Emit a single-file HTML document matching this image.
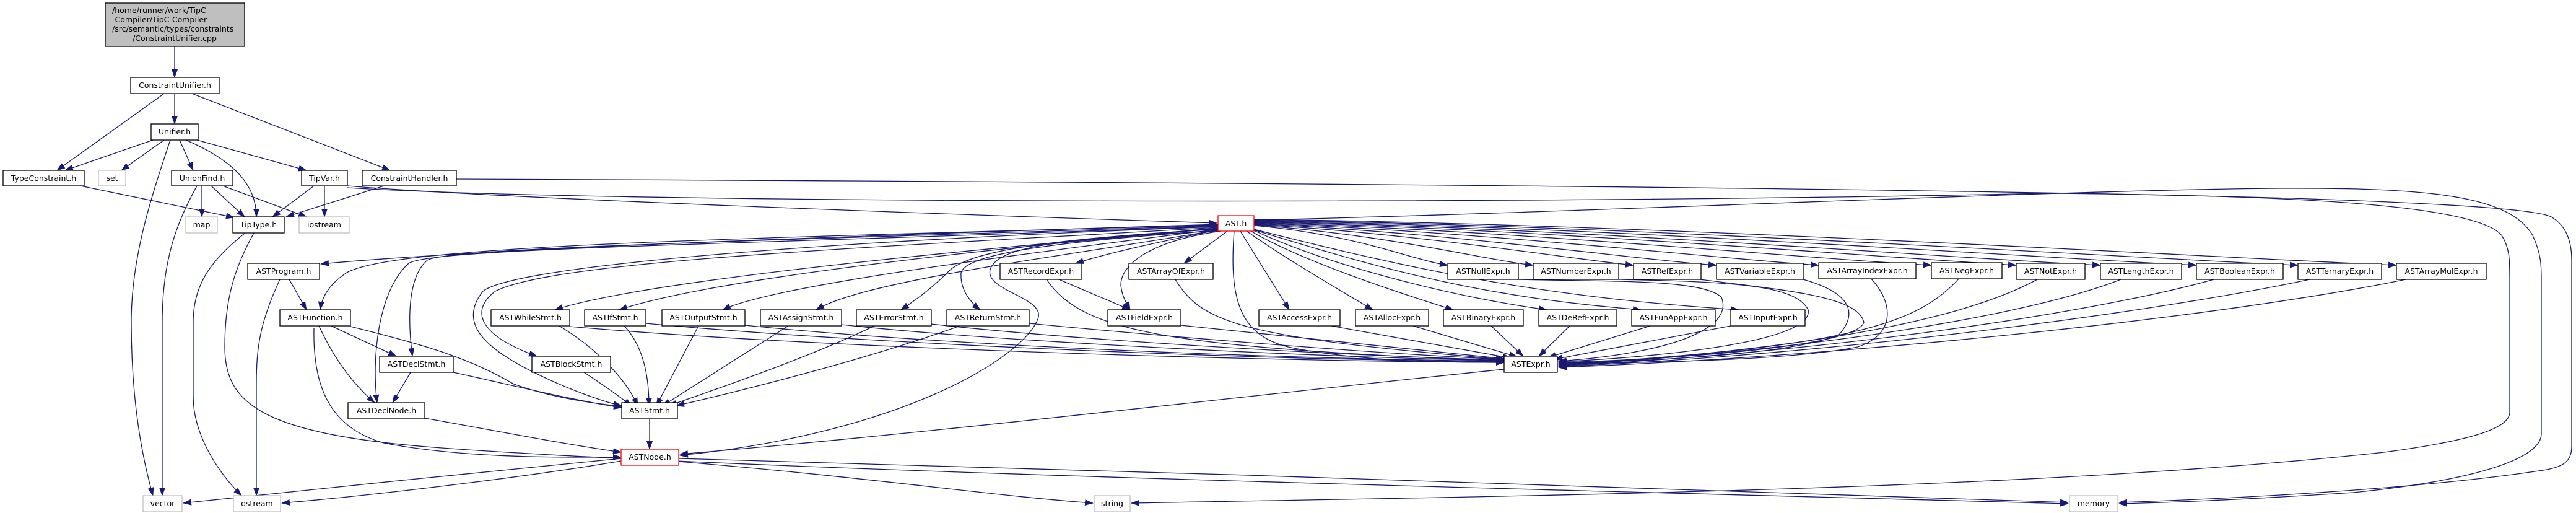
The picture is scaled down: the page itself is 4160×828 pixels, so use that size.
<!DOCTYPE html>
<html><head><meta charset="utf-8"><style>
html,body{margin:0;padding:0;background:#fff;}
svg{display:block;}
text{font-family:"DejaVu Sans","Liberation Sans",sans-serif;font-size:12.5px;fill:#000;}
.e{fill:none;stroke:#191970;stroke-width:1.3;marker-end:url(#a);}
.n{fill:#fff;stroke:#000;stroke-width:1.3;}
.g{fill:#fff;stroke:#bfbfbf;stroke-width:1.3;}
.r{fill:#fff;stroke:#ff0000;stroke-width:1.3;}
</style></head><body>
<svg width="4160" height="828" viewBox="0 0 4160 828" xmlns="http://www.w3.org/2000/svg">
<defs><marker id="a" markerWidth="14" markerHeight="10" refX="13" refY="5" orient="auto" markerUnits="userSpaceOnUse"><path d="M0,0 L14,5 L0,10z" fill="#191970"/></marker></defs>

<!-- edges -->
<path class="e" d="M282,75 L282,125"/>
<path class="e" d="M282,151 L282,200"/>
<path class="e" d="M265,151 L92,275"/>
<path class="e" d="M310,151 L630,275"/>
<path class="e" d="M247,226 L105,275"/>
<path class="e" d="M265,226 L196,275"/>
<path class="e" d="M275,226 C240,330 212,420 212,520 C212,650 230,740 247,800"/>
<path class="e" d="M290,226 L312,275"/>
<path class="e" d="M300,226 C380,260 414,300 414,350"/>
<path class="e" d="M318,226 L495,275"/>
<path class="e" d="M130,300 L378,351"/>
<path class="e" d="M326,300 L326,350"/>
<path class="e" d="M341,300 L395,350"/>
<path class="e" d="M360,300 L495,350"/>
<path class="e" d="M318,300 C285,360 262,420 262,520 L262,800"/>
<path class="e" d="M507,300 L440,350"/>
<path class="e" d="M524,300 L524,350"/>
<path class="e" d="M620,300 L462,350"/>
<path class="e" d="M561,300 C800,320 1500,345 1965,360"/>
<path class="e" d="M561,303 C1000,330 2500,330 3300,312 C3700,315 4000,330 4040,380 C4053,400 4053,420 4053,450 L4053,665 C4053,690 4000,710 3850,730 C3300,790 2500,800 1827,812"/>
<path class="e" d="M737,289 C1500,292 3000,300 3700,320 C4000,330 4100,340 4120,350 C4145,365 4153,390 4153,420 L4153,720 C4153,745 4140,755 4100,760 C3900,790 3600,805 3422,811"/>
<path class="e" d="M2025,355 C2500,345 3200,312 3600,305 C3900,300 4050,310 4090,380 C4104,410 4104,430 4104,450 L4104,700 C4104,740 4000,775 3800,795 C3600,808 3500,811 3422,813"/>
<path class="e" d="M396,376 C340,420 312,460 312,520 L312,640 C312,700 350,760 390,800"/>
<path class="e" d="M410,376 C380,430 363,480 363,560 C363,650 420,700 700,722 C1200,760 2500,790 3340,813"/>

<!-- AST.h left fan -->
<path class="e" d="M1967,362 C1400,380 800,400 518,426"/>
<path class="e" d="M1967,363 C1200,385 640,395 560,440 C530,460 520,480 517,500"/>
<path class="e" d="M1967,364 C1200,390 720,400 690,420 C655,450 660,530 666,575"/>
<path class="e" d="M1967,365 C1200,395 700,400 660,425 C610,470 600,580 609,650"/>
<path class="e" d="M1967,366 C1300,390 830,430 780,470 C740,520 780,560 860,600 C920,630 980,650 1004,655"/>
<path class="e" d="M1967,367 C1400,400 900,420 800,470 C760,500 770,540 867,575"/>
<path class="e" d="M1967,368 C1600,400 1050,450 896,500"/>
<path class="e" d="M1967,369 C1600,400 1150,450 1000,500"/>
<path class="e" d="M1967,370 C1650,410 1250,460 1167,500"/>
<path class="e" d="M1967,371 C1750,410 1400,450 1318,500"/>
<path class="e" d="M1967,370 C1700,385 1560,405 1530,440 C1500,470 1470,490 1455,500"/>
<path class="e" d="M1967,372 C1700,390 1560,410 1552,440 C1550,470 1570,490 1583,500"/>
<path class="e" d="M1967,373 C1700,385 1610,400 1599,435 C1590,470 1690,480 1676,515 C1650,580 1450,700 1098,735"/>
<path class="e" d="M1967,371 C1900,385 1800,405 1737,425"/>
<path class="e" d="M1972,373 C1850,390 1810,430 1810,460 C1812,480 1820,490 1825,500"/>
<path class="e" d="M1982,373 L1912,425"/>
<path class="e" d="M1993,373 C1985,480 2000,540 2080,560 C2200,585 2350,585 2429,585"/>
<!-- AST.h right fan G row -->
<path class="e" d="M2003,373 L2082,500"/>
<path class="e" d="M2013,373 C2080,420 2150,460 2217,500"/>
<path class="e" d="M2020,373 C2100,420 2250,470 2347,500"/>
<path class="e" d="M2025,372 C2150,430 2350,480 2498,500"/>
<path class="e" d="M2025,371 C2250,440 2400,480 2650,500"/>
<path class="e" d="M2025,370 C2300,440 2500,480 2808,500"/>
<!-- AST.h right fan F row -->
<path class="e" d="M2025,364 C2200,380 2280,420 2338,428"/>
<path class="e" d="M2025,363 C2250,380 2400,420 2476,428"/>
<path class="e" d="M2025,362 C2300,378 2550,420 2638,428"/>
<path class="e" d="M2025,361 C2350,376 2650,420 2772,428"/>
<path class="e" d="M2025,360 C2400,374 2800,420 2937,428"/>
<path class="e" d="M2025,359 C2450,372 2950,420 3119,428"/>
<path class="e" d="M2025,358 C2500,370 3100,420 3256,428"/>
<path class="e" d="M2025,357 C2550,368 3200,420 3392,428"/>
<path class="e" d="M2025,356 C2600,366 3350,420 3547,428"/>
<path class="e" d="M2025,355 C2650,364 3500,420 3711,428"/>
<path class="e" d="M2025,354 C2700,362 3650,420 3870,428"/>

<!-- program/function/decl -->
<path class="e" d="M467,451 L495,500"/>
<path class="e" d="M452,451 C420,520 414,560 414,620 L414,800"/>
<path class="e" d="M535,526 L640,575"/>
<path class="e" d="M515,526 C540,580 570,620 605,650"/>
<path class="e" d="M566,527 C700,560 760,580 830,620 C900,645 970,652 1004,656"/>
<path class="e" d="M507,530 C505,620 530,690 620,715 C750,740 900,738 1003,738"/>
<path class="e" d="M663,601 L634,650"/>
<path class="e" d="M732,601 C820,620 920,645 1004,658"/>
<path class="e" d="M686,675 C800,695 900,715 1003,730"/>
<path class="e" d="M1049,676 L1049,725"/>
<path class="e" d="M943,601 C980,625 1000,640 1020,655"/>
<!-- stmt -> ASTStmt -->
<path class="e" d="M903,526 C960,560 1010,610 1030,655"/>
<path class="e" d="M1008,526 C1040,560 1048,610 1048,655"/>
<path class="e" d="M1128,526 L1060,655"/>
<path class="e" d="M1273,526 L1070,655"/>
<path class="e" d="M1412,526 C1300,580 1150,630 1080,655"/>
<path class="e" d="M1550,526 C1400,580 1200,630 1092,655"/>
<!-- stmt -> ASTExpr -->
<path class="e" d="M920,527 C1300,560 2000,583 2429,585"/>
<path class="e" d="M1043,522 C1400,555 2000,580 2429,584"/>
<path class="e" d="M1203,525 C1500,555 2000,578 2429,583"/>
<path class="e" d="M1359,524 C1600,550 2100,576 2429,582"/>
<path class="e" d="M1504,523 C1700,545 2100,572 2429,581"/>
<path class="e" d="M1662,522 C1850,540 2200,570 2429,580"/>
<path class="e" d="M1907,525 C2100,545 2300,565 2429,579"/>
<path class="e" d="M1690,451 C1750,540 1900,560 2429,583"/>
<path class="e" d="M1710,451 L1825,500"/>
<path class="e" d="M1898,451 C1940,520 2000,545 2429,580"/>
<!-- G exprs -> ASTExpr -->
<path class="e" d="M2150,526 L2440,578"/>
<path class="e" d="M2282,526 L2450,576"/>
<path class="e" d="M2408,526 L2460,575"/>
<path class="e" d="M2535,526 L2485,575"/>
<path class="e" d="M2665,526 L2500,577"/>
<path class="e" d="M2795,526 L2510,580"/>
<!-- F exprs -> ASTExpr -->
<path class="e" d="M2450,451 C2600,455 2750,450 2780,480 C2800,530 2700,570 2517,583"/>
<path class="e" d="M2614,451 C2800,455 2900,460 2920,500 C2930,550 2700,575 2517,584"/>
<path class="e" d="M2745,451 C2900,470 3000,480 3010,520 C3000,560 2700,580 2517,585"/>
<path class="e" d="M2912,451 C2980,470 3005,500 2970,540 C2900,570 2700,582 2517,586"/>
<path class="e" d="M3020,448 C3060,490 3060,540 3000,560 C2900,580 2700,585 2517,587"/>
<path class="e" d="M3165,448 C3100,520 3000,560 2517,588"/>
<path class="e" d="M3290,451 C3200,500 3000,560 2517,589"/>
<path class="e" d="M3425,451 C3300,500 3000,560 2517,590"/>
<path class="e" d="M3575,451 C3400,500 3000,565 2517,591"/>
<path class="e" d="M3730,451 C3500,500 3000,570 2517,592"/>
<path class="e" d="M3885,451 C3600,510 3000,575 2517,593"/>
<!-- to ASTNode and bottom -->
<path class="e" d="M2429,596 C2000,640 1500,700 1098,733"/>
<path class="e" d="M1096,745 C1400,770 1600,800 1765,812"/>
<path class="e" d="M1096,740 C1800,760 2800,790 3340,811"/>
<path class="e" d="M1003,740 C800,760 500,790 296,812"/>
<path class="e" d="M1003,744 C850,770 600,800 455,812"/>

<!-- nodes -->
<rect x="170" y="5" width="225" height="70" fill="#bfbfbf" stroke="#000" stroke-width="1.3"/>
<text x="181" y="21">/home/runner/work/TipC</text>
<text x="181" y="36">-Compiler/TipC-Compiler</text>
<text x="181" y="51">/src/semantic/types/constraints</text>
<text x="282" y="66" text-anchor="middle">/ConstraintUnifier.cpp</text>

<g text-anchor="middle">
<rect class="n" x="211" y="125" width="143" height="26"/><text x="282.5" y="142">ConstraintUnifier.h</text>
<rect class="n" x="244" y="200" width="76" height="26"/><text x="282" y="217">Unifier.h</text>
<rect class="n" x="5" y="275" width="131" height="25"/><text x="70.5" y="292">TypeConstraint.h</text>
<rect class="g" x="159" y="275" width="44" height="25"/><text x="181" y="292">set</text>
<rect class="n" x="277" y="275" width="99" height="25"/><text x="326.5" y="292">UnionFind.h</text>
<rect class="n" x="487" y="275" width="74" height="25"/><text x="524" y="292">TipVar.h</text>
<rect class="n" x="585" y="275" width="152" height="25"/><text x="661" y="292">ConstraintHandler.h</text>
<rect class="g" x="300" y="350" width="51" height="26"/><text x="325.5" y="367">map</text>
<rect class="n" x="376" y="350" width="83" height="26"/><text x="417.5" y="367">TipType.h</text>
<rect class="g" x="483" y="350" width="81" height="26"/><text x="523.5" y="367">iostream</text>
<rect class="r" x="1967" y="348" width="58" height="25"/><text x="1996" y="365">AST.h</text>

<rect class="n" x="400" y="425" width="116" height="26"/><text x="458" y="442">ASTProgram.h</text>
<rect class="n" x="1615" y="425" width="132" height="26"/><text x="1681" y="442">ASTRecordExpr.h</text>
<rect class="n" x="1823" y="425" width="136" height="26"/><text x="1891" y="442">ASTArrayOfExpr.h</text>
<rect class="n" x="2338" y="425" width="114" height="26"/><text x="2395" y="442">ASTNullExpr.h</text>
<rect class="n" x="2476" y="425" width="138" height="26"/><text x="2545" y="442">ASTNumberExpr.h</text>
<rect class="n" x="2638" y="425" width="109" height="26"/><text x="2692.5" y="442">ASTRefExpr.h</text>
<rect class="n" x="2772" y="425" width="140" height="26"/><text x="2842" y="442">ASTVariableExpr.h</text>
<rect class="n" x="2937" y="424" width="157" height="26"/><text x="3015.5" y="441">ASTArrayIndexExpr.h</text>
<rect class="n" x="3119" y="424" width="114" height="26"/><text x="3176" y="441">ASTNegExpr.h</text>
<rect class="n" x="3256" y="425" width="111" height="26"/><text x="3311.5" y="442">ASTNotExpr.h</text>
<rect class="n" x="3392" y="425" width="131" height="26"/><text x="3457.5" y="442">ASTLengthExpr.h</text>
<rect class="n" x="3547" y="425" width="140" height="26"/><text x="3617" y="442">ASTBooleanExpr.h</text>
<rect class="n" x="3711" y="425" width="135" height="26"/><text x="3778.5" y="442">ASTTernaryExpr.h</text>
<rect class="n" x="3870" y="425" width="145" height="26"/><text x="3942.5" y="442">ASTArrayMulExpr.h</text>

<rect class="n" x="452" y="500" width="114" height="26"/><text x="509" y="517">ASTFunction.h</text>
<rect class="n" x="793" y="500" width="127" height="26"/><text x="856.5" y="517">ASTWhileStmt.h</text>
<rect class="n" x="944" y="500" width="99" height="26"/><text x="993.5" y="517">ASTIfStmt.h</text>
<rect class="n" x="1069" y="500" width="134" height="26"/><text x="1136" y="517">ASTOutputStmt.h</text>
<rect class="n" x="1228" y="500" width="131" height="26"/><text x="1293.5" y="517">ASTAssignStmt.h</text>
<rect class="n" x="1383" y="500" width="121" height="26"/><text x="1443.5" y="517">ASTErrorStmt.h</text>
<rect class="n" x="1529" y="500" width="133" height="26"/><text x="1595.5" y="517">ASTReturnStmt.h</text>
<rect class="n" x="1789" y="500" width="118" height="26"/><text x="1848" y="517">ASTFieldExpr.h</text>
<rect class="n" x="2033" y="500" width="131" height="26"/><text x="2098.5" y="517">ASTAccessExpr.h</text>
<rect class="n" x="2189" y="500" width="118" height="26"/><text x="2248" y="517">ASTAllocExpr.h</text>
<rect class="n" x="2331" y="500" width="129" height="26"/><text x="2395.5" y="517">ASTBinaryExpr.h</text>
<rect class="n" x="2485" y="500" width="126" height="26"/><text x="2548" y="517">ASTDeRefExpr.h</text>
<rect class="n" x="2635" y="500" width="135" height="26"/><text x="2702.5" y="517">ASTFunAppExpr.h</text>
<rect class="n" x="2795" y="500" width="120" height="26"/><text x="2855" y="517">ASTInputExpr.h</text>

<rect class="n" x="613" y="575" width="119" height="26"/><text x="672.5" y="592">ASTDeclStmt.h</text>
<rect class="n" x="859" y="575" width="127" height="26"/><text x="922.5" y="592">ASTBlockStmt.h</text>
<rect class="n" x="2429" y="575" width="86" height="26"/><text x="2472" y="592">ASTExpr.h</text>

<rect class="n" x="562" y="650" width="124" height="26"/><text x="624" y="667">ASTDeclNode.h</text>
<rect class="n" x="1004" y="650" width="90" height="26"/><text x="1049" y="667">ASTStmt.h</text>
<rect class="r" x="1003" y="725" width="93" height="26"/><text x="1049.5" y="742">ASTNode.h</text>

<rect class="g" x="231" y="800" width="63" height="26"/><text x="262.5" y="817">vector</text>
<rect class="g" x="377" y="800" width="76" height="26"/><text x="415" y="817">ostream</text>
<rect class="g" x="1767" y="800" width="58" height="26"/><text x="1796" y="817">string</text>
<rect class="g" x="3342" y="800" width="78" height="26"/><text x="3381" y="817">memory</text>
</g>
</svg>
</body></html>
